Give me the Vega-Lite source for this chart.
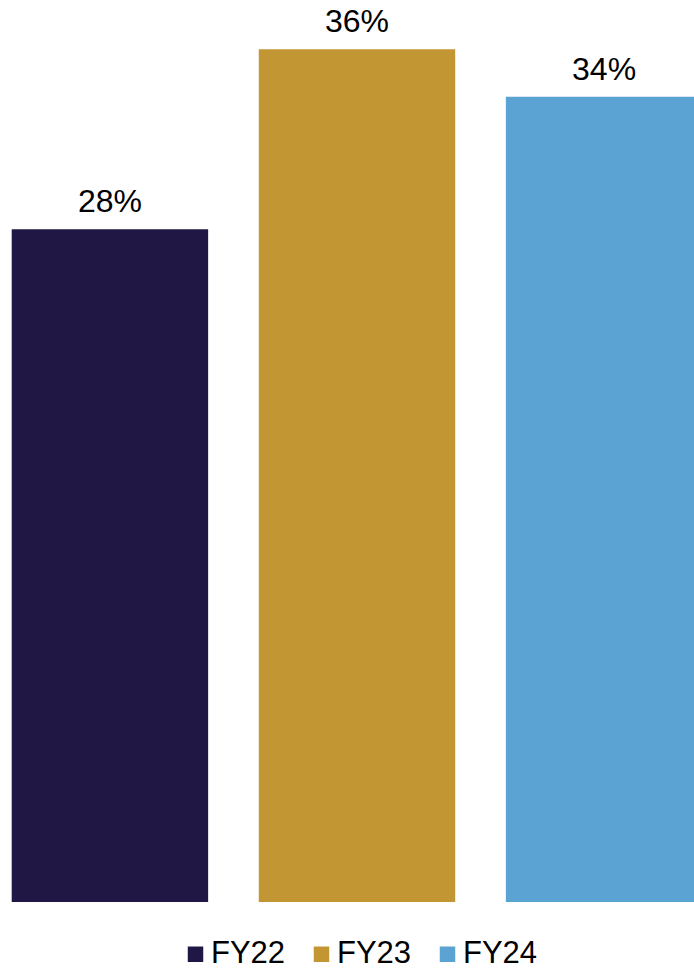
{
  "$schema": "https://vega.github.io/schema/vega-lite/v6.json",
  "autosize": "none",
  "width": 694,
  "height": 902,
  "padding": {"top": 0, "left": 0, "right": 0, "bottom": 69},
  "background": "white",
  "config": {"view": {"stroke": null}, "font": "Liberation Sans"},
  "data": {
    "values": [
      {"year": "FY22", "share": 0.284},
      {"year": "FY23", "share": 0.36},
      {"year": "FY24", "share": 0.34}
    ]
  },
  "encoding": {
    "x": {
      "field": "year",
      "type": "nominal",
      "axis": null,
      "scale": {"range": [-13, 727], "paddingInner": 0.205, "paddingOuter": 0.1}
    },
    "y": {
      "field": "share",
      "type": "quantitative",
      "axis": null,
      "scale": {"domain": [0, 0.3808], "nice": false, "zero": true}
    }
  },
  "layer": [
    {
      "mark": {"type": "bar"},
      "encoding": {
        "color": {
          "field": "year",
          "type": "nominal",
          "scale": {"domain": ["FY22", "FY23", "FY24"], "range": ["#201744", "#C29632", "#5BA3D3"]},
          "legend": {
            "orient": "none",
            "direction": "horizontal",
            "legendX": 180,
            "legendY": 938.5,
            "title": null,
            "symbolType": "square",
            "symbolSize": 240,
            "symbolStrokeWidth": 0,
            "symbolOpacity": 1,
            "labelFontSize": 31,
            "labelFont": "Liberation Sans",
            "labelColor": "black",
            "labelOffset": 0,
            "columnPadding": 20,
            "padding": 0
          }
        }
      }
    },
    {
      "mark": {"type": "text", "baseline": "alphabetic", "dy": -17, "fontSize": 32, "font": "Liberation Sans", "color": "black"},
      "encoding": {
        "text": {"field": "share", "type": "quantitative", "format": ".0%"}
      }
    }
  ]
}
